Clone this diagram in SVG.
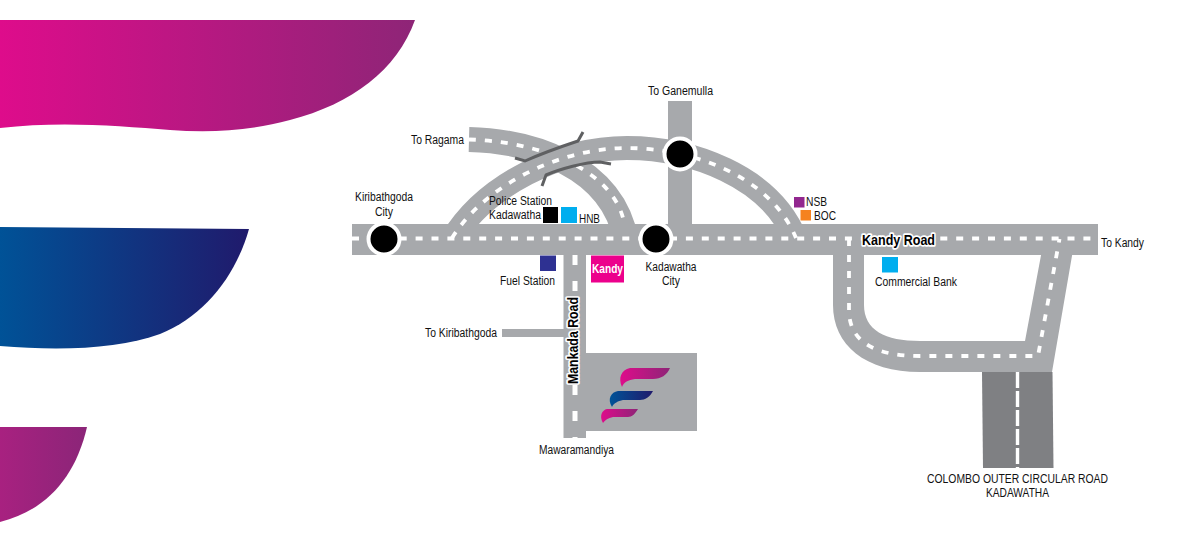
<svg xmlns="http://www.w3.org/2000/svg" width="1200" height="540" viewBox="0 0 1200 540">
<style>
text{font-family:"Liberation Sans",Arial,sans-serif;font-size:12.5px;fill:#111}
.road{fill:none;stroke:#a7a9ac;stroke-width:24}
.fill{fill:#a7a9ac}
.dash{fill:none;stroke:#fff;stroke-width:3.800;stroke-dasharray:7 9}
.edge{fill:none;stroke:#5f6062;stroke-width:3}
.halo{font-weight:700;font-size:14px;fill:#000;stroke:#fff;stroke-width:3.500;paint-order:stroke;stroke-linejoin:round}
.ring{fill:#000;stroke:#fff;stroke-width:4}
</style>
<defs>
<linearGradient id="pk" x1="0" y1="0" x2="1" y2="0"><stop offset="0" stop-color="#de0c8b"/><stop offset="1" stop-color="#8e2577"/></linearGradient>
<linearGradient id="bl" x1="0" y1="0" x2="1" y2="0"><stop offset="0" stop-color="#005297"/><stop offset="1" stop-color="#201a6c"/></linearGradient>
<linearGradient id="pk2" x1="0" y1="0" x2="1" y2="0"><stop offset="0" stop-color="#a82180"/><stop offset="1" stop-color="#8b2578"/></linearGradient>
</defs>
<rect width="1200" height="540" fill="#fff"/>
<g id="backdrop">
<path fill="url(#pk)" d="M0 20H415C397 70 352 104 290 120C250 131 210 133 170 130C120 126 60 121 0 128Z"/>
<path fill="url(#bl)" d="M0 227L249 229C236 275 205 316 160 334C120 349 60 351 0 346Z"/>
<path fill="url(#pk2)" d="M0 427H87C76 475 48 510 0 522Z"/>
</g>
<g id="connectors">
<path class="road" style="stroke-width:25" d="M469 139.500C530 141 612 165 626 240"/>
<path class="dash" d="M469 139.500C530 141 612 165 624 222"/>
<path class="road" d="M452 240C485 185 560 148 627 148C690 148 770 175 796 240"/>
<path class="fill" d="M668 101H692V225H668Z"/>
<path class="fill" d="M352 224H1098V255H352Z"/>
<path class="fill" d="M563.500 255H586V353H697V431H586V438H563.500Z"/>
<path class="fill" d="M502 329H564V337H502Z"/>
<path class="fill" d="M833 250V305C833 345 865 372 920 372H1052L1073 250H1042L1025 341H920C885 341 864 330 864 305V250Z"/>
<path fill="#7f8083" d="M982 372H1052.500L1053.500 468H983Z"/>
<path class="dash" d="M352 238.500H1098" style="stroke-dasharray:7 8.900"/>
<path class="dash" d="M452 238C485 185 560 148 627 148C690 148 770 175 796 238"/>
<path class="dash" d="M849 239V310C849 345 880 356 920 356H1038L1059.500 239"/>
<path class="dash" d="M575 255V438" style="stroke-width:5;stroke-dasharray:10 16"/>
<path class="dash" d="M1017.500 372V472" style="stroke-width:3.400;stroke-dasharray:16 3"/>
<path class="edge" d="M515 158L525 161C545 152 560 147 578 141L583 132"/>
<path class="edge" d="M542 186L546 175C560 169 585 162 600 162L611 164"/>
</g>
<g id="node-kiribathgoda"><circle class="ring" cx="384" cy="239" r="15.500"/><text x="355" y="201" textLength="58" lengthAdjust="spacingAndGlyphs">Kiribathgoda</text><text x="375" y="215.500" textLength="18" lengthAdjust="spacingAndGlyphs">City</text></g>
<g id="node-kadawatha"><circle class="ring" cx="656" cy="239" r="15.500"/><text x="645.500" y="270.500" textLength="51" lengthAdjust="spacingAndGlyphs">Kadawatha</text><text x="662" y="285" textLength="18" lengthAdjust="spacingAndGlyphs">City</text></g>
<g id="node-ganemulla"><circle class="ring" cx="680" cy="154" r="15.500"/><text x="648" y="95" textLength="65" lengthAdjust="spacingAndGlyphs">To Ganemulla</text></g>
<g id="node-ragama"><text x="411" y="143.500" textLength="53" lengthAdjust="spacingAndGlyphs">To Ragama</text></g>
<g id="node-police"><rect x="543" y="207" width="15" height="16" fill="#000"/><text x="489" y="204.500" textLength="63" lengthAdjust="spacingAndGlyphs">Police Station</text><text x="489" y="218.500" textLength="52" lengthAdjust="spacingAndGlyphs">Kadawatha</text></g>
<g id="node-hnb"><rect x="561" y="207" width="16" height="16" fill="#00aeef"/><text x="579" y="222.500" textLength="21" lengthAdjust="spacingAndGlyphs">HNB</text></g>
<g id="node-fuel"><rect x="540" y="255.500" width="16" height="15.500" fill="#2e3192"/><text x="500" y="285" textLength="55" lengthAdjust="spacingAndGlyphs">Fuel Station</text></g>
<g id="node-kandy"><rect x="591" y="255.500" width="33" height="27" fill="#ec008c"/><text x="592" y="272.500" textLength="31" lengthAdjust="spacingAndGlyphs" style="fill:#fff;font-weight:700">Kandy</text></g>
<g id="node-mankada"><text class="halo" transform="translate(578 384) rotate(-90)" textLength="87" lengthAdjust="spacingAndGlyphs">Mankada Road</text></g>
<g id="node-to-kiribathgoda"><text x="425" y="337" textLength="72" lengthAdjust="spacingAndGlyphs">To Kiribathgoda</text></g>
<g id="node-mawaramandiya"><text x="539" y="453.500" textLength="75" lengthAdjust="spacingAndGlyphs">Mawaramandiya</text></g>
<g id="node-logo">
<path fill="url(#pk)" d="M630 368H670C667 375 661 379 653 379H635C628 380 624 382 622 387C618 378 621 370 630 368Z"/>
<path fill="url(#bl)" d="M618 391H653C650 397 645 400 640 400H623C618 401 614 403 612 407C607 399 611 392 618 391Z"/>
<path fill="url(#pk)" d="M607 409H638C635 414 632 417 628 417H613C608 418 605 420 603 423C599 416 602 410 607 409Z"/>
</g>
<g id="node-nsb"><rect x="794" y="197" width="10.500" height="10.500" fill="#92278f"/><text x="806" y="205.500" textLength="21" lengthAdjust="spacingAndGlyphs">NSB</text></g>
<g id="node-boc"><rect x="800.500" y="210" width="10.500" height="10.500" fill="#f58220"/><text x="814" y="219.500" textLength="22" lengthAdjust="spacingAndGlyphs">BOC</text></g>
<g id="node-kandy-road"><text class="halo" x="862" y="244.500" textLength="73" lengthAdjust="spacingAndGlyphs">Kandy Road</text></g>
<g id="node-to-kandy"><text x="1101" y="247" textLength="43" lengthAdjust="spacingAndGlyphs">To Kandy</text></g>
<g id="node-commercial"><rect x="882" y="257" width="16" height="15.500" fill="#00aeef"/><text x="875" y="286" textLength="82" lengthAdjust="spacingAndGlyphs">Commercial Bank</text></g>
<g id="node-colombo"><text x="927" y="482.500" textLength="181" lengthAdjust="spacingAndGlyphs">COLOMBO OUTER CIRCULAR ROAD</text><text x="986" y="497" textLength="63" lengthAdjust="spacingAndGlyphs">KADAWATHA</text></g>
</svg>
